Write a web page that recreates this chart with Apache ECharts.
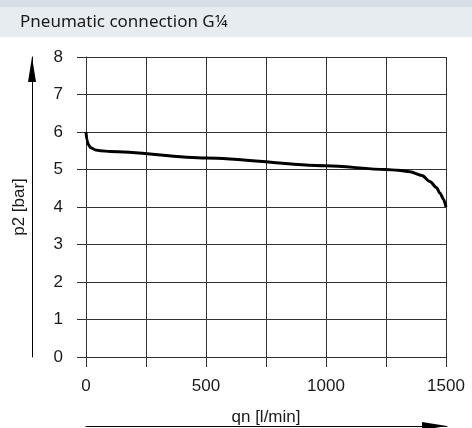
<!DOCTYPE html>
<html><head><meta charset="utf-8">
<script src="https://cdn.jsdelivr.net/npm/echarts@6/dist/echarts.min.js"></script>
<style>html,body{margin:0;padding:0;background:#fff}#c{width:472px;height:428px}</style>
</head><body><div id="c"></div>
<script>
const title = 'Pneumatic connection G\u00BC';
const xName = 'qn [l/min]';
const yName = 'p2 [bar]';
const qn = [0, 4, 10, 20, 40, 60, 100, 500, 1000, 1250, 1300, 1350, 1400, 1433, 1460, 1475, 1490, 1500];
const p2 = [6.0, 5.78, 5.66, 5.58, 5.52, 5.5, 5.48, 5.31, 5.1, 5.0, 4.98, 4.94, 4.84, 4.68, 4.52, 4.37, 4.2, 4.0];
const xMin = 0, xMax = 1500, xStep = 250, xLabelStep = 500;
const yMin = 0, yMax = 8, yStep = 1;

const font = "'Liberation Sans', sans-serif";
const hidden = {axisLine: {show: false}, axisTick: {show: false}, axisLabel: {show: false}, splitLine: {show: false}};
const arrowLine = {show: true, symbol: ['none', 'triangle'], symbolSize: [8, 25], symbolOffset: [0, -12.5], lineStyle: {color: '#000', width: 1}};
const chart = echarts.init(document.getElementById('c'), null, {renderer: 'canvas'});
chart.setOption({
  animation: false,
  backgroundColor: '#fff',
  graphic: [
    {type: 'rect', left: 0, top: 0, shape: {width: 472, height: 7}, style: {fill: '#d6dee7'}, z: 0},
    {type: 'rect', left: 0, top: 7, shape: {width: 472, height: 30}, style: {fill: '#e7ecf1'}, z: 0},
    {type: 'text', left: 20, top: 14, style: {text: title, font: "17px 'Noto Sans', sans-serif", fill: '#1a1a1a'}, z: 1}
  ],
  grid: [
    {left: 86, right: 26, top: 57, bottom: 71, outerBoundsMode: 'none', containLabel: false},
    {left: 32, right: 26, top: 57, bottom: 71, outerBoundsMode: 'none', containLabel: false},
    {left: 86, right: 25, top: 57, bottom: 2, outerBoundsMode: 'none', containLabel: false}
  ],
  xAxis: [{
    gridIndex: 0, type: 'value', min: xMin, max: xMax, interval: xStep, position: 'bottom',
    name: xName, nameLocation: 'middle', nameGap: 52,
    nameTextStyle: {fontFamily: font, fontSize: 17, color: '#1a1a1a'},
    axisLine: {show: true, lineStyle: {color: '#333', width: 1}},
    axisTick: {show: true, length: 10, lineStyle: {color: '#333'}},
    axisLabel: {margin: 21, fontFamily: font, fontSize: 17, color: '#1a1a1a',
      formatter: v => (v % xLabelStep === 0 ? String(v) : '')},
    splitLine: {show: true, lineStyle: {color: '#333', width: 1}}
  }, Object.assign({gridIndex: 1, type: 'value', min: xMin, max: xMax}, hidden),
  Object.assign({gridIndex: 2, type: 'value', min: xMin, max: xMax, position: 'bottom'}, hidden, {axisLine: arrowLine})],
  yAxis: [{
    gridIndex: 0, type: 'value', min: yMin, max: yMax, interval: yStep, position: 'left',
    name: yName, nameLocation: 'middle', nameGap: 58,
    nameTextStyle: {fontFamily: font, fontSize: 17, color: '#1a1a1a'},
    axisLine: {show: true, lineStyle: {color: '#333', width: 1}},
    axisTick: {show: true, length: 9, lineStyle: {color: '#333'}},
    axisLabel: {margin: 23, fontFamily: font, fontSize: 17, color: '#1a1a1a'},
    splitLine: {show: true, lineStyle: {color: '#333', width: 1}}
  }, Object.assign({gridIndex: 1, type: 'value', min: yMin, max: yMax, position: 'left'}, hidden, {axisLine: arrowLine}),
  Object.assign({gridIndex: 2, type: 'value', min: yMin, max: yMax}, hidden)],
  series: [{
    type: 'line', xAxisIndex: 0, yAxisIndex: 0,
    data: qn.map((x, i) => [x, p2[i]]),
    smooth: 0.3, smoothMonotone: 'x', showSymbol: false,
    lineStyle: {color: '#000', width: 3}, z: 5
  }]
});
</script></body></html>
